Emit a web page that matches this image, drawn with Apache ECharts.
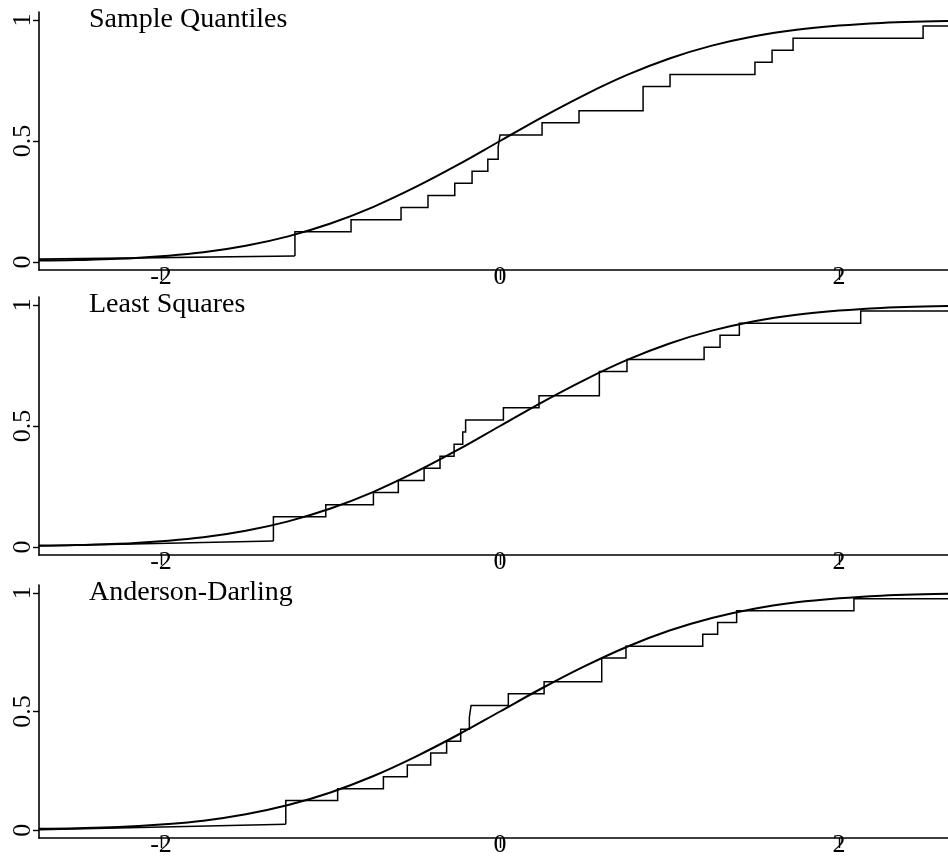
<!DOCTYPE html>
<html>
<head>
<meta charset="utf-8">
<script src="https://cdn.jsdelivr.net/npm/echarts@6/dist/echarts.min.js"></script>
<style>html,body{margin:0;padding:0;background:#fff;}#c{width:948px;height:858px;}</style>
</head>
<body>
<div id="c"></div>
<script>
// ---- data ----
var panelTitles = ['Sample Quantiles', 'Least Squares', 'Anderson-Darling'];
var xTickValues = [-2, 0, 2];
var yTickValues = [0, 0.5, 1];
var yTickLabels = ['0', '0.5', '1'];
// ECDF step levels (20 observations)
var stepLevels = [0.025, 0.075, 0.125, 0.175, 0.225, 0.275, 0.325, 0.375, 0.425, 0.475,
                  0.525, 0.575, 0.625, 0.675, 0.725, 0.775, 0.825, 0.875, 0.925, 0.975];
// observation positions, panel 1 (sample quantiles); first one at the left edge
var jumpsSQ = [-2.72, -1.21, -1.21, -0.879, -0.584, -0.425, -0.267, -0.165, -0.072, -0.011,
               0.0, 0.248, 0.466, 0.844, 0.844, 1.003, 1.504, 1.605, 1.729, 2.496];
// panel 2 (least squares)
var jumpsLS = [-2.72, -1.337, -1.337, -1.028, -0.747, -0.600, -0.448, -0.354, -0.271, -0.220,
               -0.203, 0.020, 0.230, 0.586, 0.586, 0.749, 1.204, 1.298, 1.412, 2.128];
// panel 3 (Anderson-Darling)
var jumpsAD = [-2.72, -1.264, -1.264, -0.958, -0.688, -0.547, -0.409, -0.315, -0.232, -0.181,
               -0.171, 0.049, 0.260, 0.600, 0.600, 0.743, 1.196, 1.284, 1.396, 2.088];
// level of the ECDF line at the left edge (slanted lead-in), per panel
var leadStart = [0.012, 0.004, 0.002];
// fitted CDF curve, read at these x positions
var curveX = [-2.72, -2.5, -2.25, -2, -1.75, -1.5, -1.25, -1, -0.75, -0.5, -0.25, 0,
              0.25, 0.5, 0.75, 1, 1.25, 1.5, 1.75, 2, 2.25, 2.5, 2.643];
var curveY = [0.006, 0.008, 0.013, 0.024, 0.040, 0.067, 0.106, 0.159, 0.227, 0.309, 0.401, 0.500,
              0.599, 0.691, 0.773, 0.841, 0.894, 0.933, 0.960, 0.977, 0.988, 0.994, 0.996];
var xMin = -2.72, xMax = 2.643;
var yMin = -0.033, yMax = 1.033;

// ---- chart ----
var jumpSets = [jumpsSQ, jumpsLS, jumpsAD];
var gridTops = [12, 297, 585];
var gridH = 258;
var serif = '"Liberation Serif", "DejaVu Serif", serif';

var grids = [], xAxes = [], yAxes = [], series = [], titles = [];
for (var p = 0; p < 3; p++) {
  grids.push({left: 39, right: 0, top: gridTops[p], height: gridH, containLabel: false});
  titles.push({
    text: panelTitles[p], left: 89, top: gridTops[p] - 6, padding: 0,
    textStyle: {fontFamily: serif, fontSize: 28, fontWeight: 'normal', color: '#000'}
  });
  xAxes.push({
    type: 'value', gridIndex: p, min: xMin, max: xMax, position: 'bottom',
    splitLine: {show: false},
    axisLine: {onZero: false, lineStyle: {color: '#000', width: 1.6}},
    axisTick: {show: true, inside: false, length: 10, customValues: xTickValues, lineStyle: {color: '#000', width: 1.4}},
    axisLabel: {customValues: xTickValues, margin: -6, color: '#000', fontFamily: serif, fontSize: 26,
                formatter: function (v) { return String(v); }}
  });
  yAxes.push({
    type: 'value', gridIndex: p, min: yMin, max: yMax, position: 'left',
    splitLine: {show: false},
    axisLine: {show: true, onZero: false, lineStyle: {color: '#000', width: 1.6}},
    axisTick: {show: true, inside: false, length: 6, customValues: yTickValues, lineStyle: {color: '#000', width: 1.4}},
    axisLabel: {customValues: yTickValues, rotate: 90, margin: 3, color: '#000', fontFamily: serif, fontSize: 26,
                formatter: function (v) { return yTickLabels[yTickValues.indexOf(v)]; }}
  });
  var js = jumpSets[p];
  // slanted lead-in from the left edge to the first jump
  series.push({
    type: 'line', xAxisIndex: p, yAxisIndex: p,
    data: [[js[0], leadStart[p]], [js[1], stepLevels[0]]],
    symbol: 'none', lineStyle: {color: '#000', width: 1.6}, silent: true
  });
  var stepData = [[js[1], stepLevels[0]]];
  for (var i = 1; i < js.length; i++) stepData.push([js[i], stepLevels[i]]);
  stepData.push([xMax, stepLevels[stepLevels.length - 1]]);
  series.push({
    type: 'line', xAxisIndex: p, yAxisIndex: p, data: stepData, step: 'end',
    symbol: 'none', lineStyle: {color: '#000', width: 1.5, join: 'miter'}, silent: true
  });
  series.push({
    type: 'line', xAxisIndex: p, yAxisIndex: p, smooth: 0.4,
    data: curveX.map(function (x, k) { return [x, curveY[k]]; }),
    symbol: 'none', lineStyle: {color: '#000', width: 2}, silent: true
  });
}

var chart = echarts.init(document.getElementById('c'), null, {renderer: 'canvas'});
chart.setOption({
  backgroundColor: '#fff',
  animation: false,
  title: titles,
  grid: grids,
  xAxis: xAxes,
  yAxis: yAxes,
  series: series
});
</script>
</body>
</html>
